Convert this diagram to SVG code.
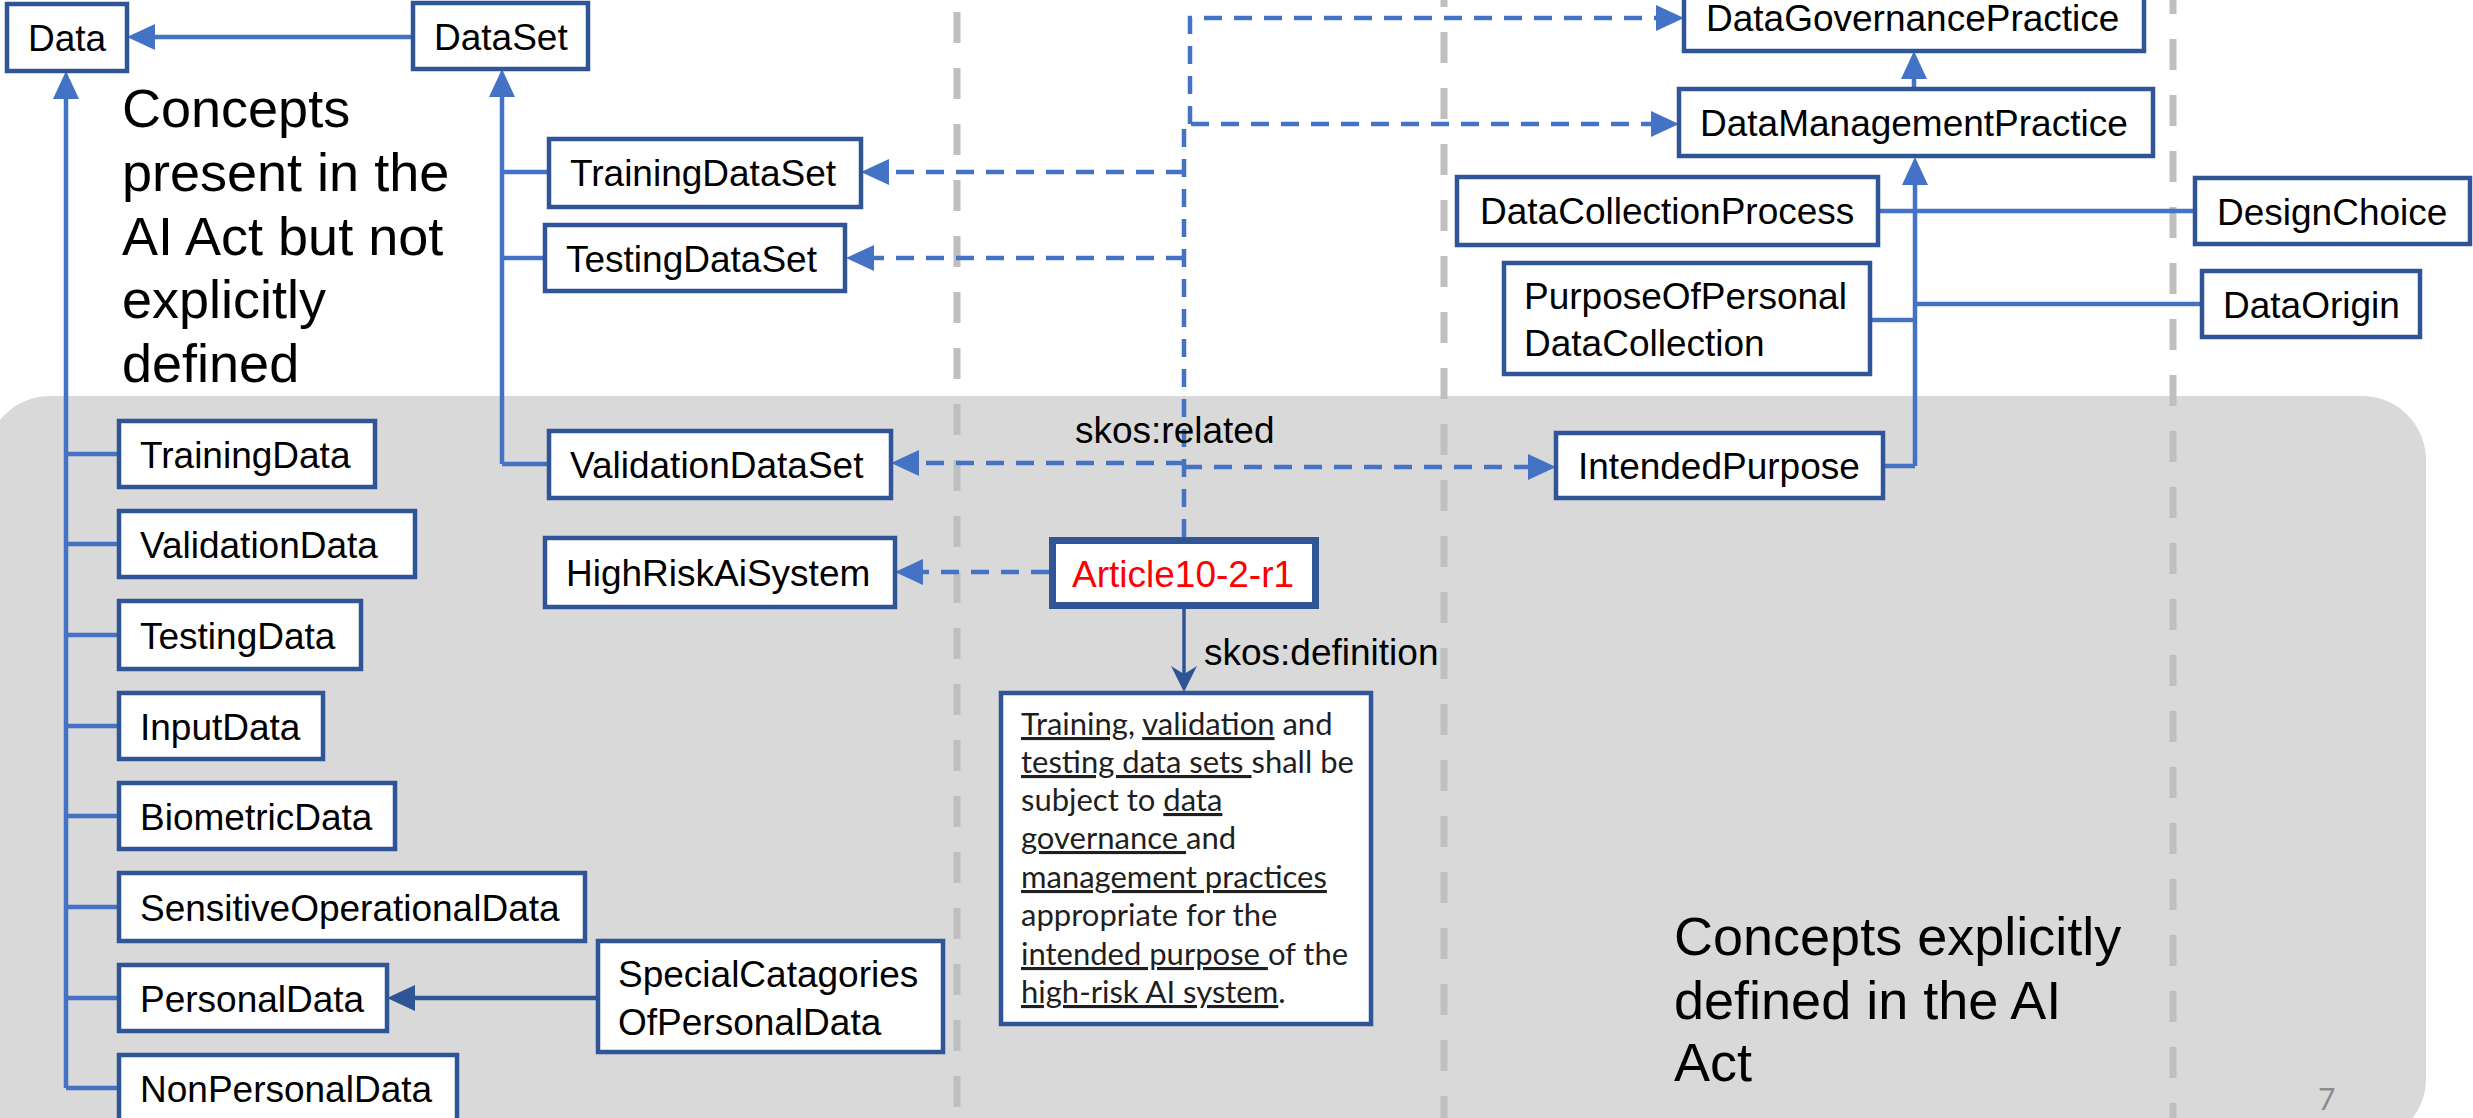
<svg xmlns="http://www.w3.org/2000/svg" width="2473" height="1118" viewBox="0 0 2473 1118">
<style>
.box{fill:#ffffff;stroke:#2f5597;stroke-width:4.5}
.lbl{font-family:"Liberation Sans",Arial,sans-serif;font-size:37px;fill:#000000}
.big{font-family:"Liberation Sans",Arial,sans-serif;font-size:54px;fill:#000000}
.sol{fill:none;stroke:#4472c4;stroke-width:4.5}
.dsh{fill:none;stroke:#4472c4;stroke-width:4.5;stroke-dasharray:18 12}
.sep{fill:none;stroke:#bfbfbf;stroke-width:7;stroke-dasharray:31 25}
.def{font-family:Lato,"Liberation Sans",sans-serif;font-size:31px;fill:#1f1f1f}
</style>
<defs>
<marker id="arr" markerUnits="userSpaceOnUse" markerWidth="28" markerHeight="26" viewBox="0 0 28 26" refX="18" refY="13" orient="auto"><path d="M0,0 L28,13 L0,26 Z" fill="#4472c4"/></marker>
<marker id="arrd" markerUnits="userSpaceOnUse" markerWidth="28" markerHeight="26" viewBox="0 0 28 26" refX="18" refY="13" orient="auto"><path d="M0,0 L28,13 L0,26 Z" fill="#2f5597"/></marker>
<marker id="stl" markerUnits="userSpaceOnUse" markerWidth="26" markerHeight="26" viewBox="0 0 26 26" refX="20" refY="13" orient="auto"><path d="M0,0 L26,13 L0,26 L8,13 Z" fill="#2f5597"/></marker>
</defs>
<rect x="0" y="0" width="2473" height="1118" fill="#ffffff"/>
<rect x="-14" y="396" width="2440" height="747" rx="64" ry="64" fill="#d9d9d9"/>
<g id="separators">
<path class="sep" d="M957,0 V1118" stroke-dashoffset="44"/>
<path class="sep" d="M1444,0 V1118" stroke-dashoffset="24"/>
<path class="sep" d="M2173,0 V1118" stroke-dashoffset="17"/>
</g>
<g id="connectors">
<path class="sol" d="M413,37 H137" marker-end="url(#arr)"/>
<path class="sol" d="M66,1088 V81" marker-end="url(#arr)"/>
<path class="sol" d="M66,454 H119 M66,544 H119 M66,635 H119 M66,726 H119 M66,816 H119 M66,907 H119 M66,998 H119 M66,1088 H119"/>
<path class="sol" d="M502,464 V79" marker-end="url(#arr)"/>
<path class="sol" d="M502,172 H549 M502,258 H545 M502,464 H549"/>
<path class="sol" d="M1914,89 V61" marker-end="url(#arr)"/>
<path class="sol" d="M1915,466 V167" marker-end="url(#arr)"/>
<path class="sol" d="M1883,466 H1915 M1870,320 H1915 M1915,304 H2202 M1877,211 H2195"/>
<path class="dsh" d="M1184,537 V124 H1669" marker-end="url(#arr)"/>
<path class="dsh" d="M1190,124 V18 H1674" marker-end="url(#arr)"/>
<path class="dsh" d="M1184,172 H871" marker-end="url(#arr)"/>
<path class="dsh" d="M1184,258 H856" marker-end="url(#arr)"/>
<path class="dsh" d="M1184,463 H901" marker-end="url(#arr)"/>
<path class="dsh" d="M1184,467 H1546" marker-end="url(#arr)"/>
<path class="dsh" d="M1049,572 H905" marker-end="url(#arr)"/>
<path d="M598,998 H397" fill="none" stroke="#2f5597" stroke-width="4.5" marker-end="url(#arrd)"/>
<path d="M1184,609 V686" fill="none" stroke="#2f5597" stroke-width="3.5" marker-end="url(#stl)"/>
<text class="lbl" x="1075" y="443">skos:related</text>
<text class="lbl" x="1204" y="665">skos:definition</text>
</g>
<g id="n-data"><rect class="box" x="7" y="4" width="120" height="67"/><text class="lbl" x="28" y="51">Data</text></g>
<g id="n-dataset"><rect class="box" x="413" y="3" width="175" height="66"/><text class="lbl" x="434" y="50">DataSet</text></g>
<g id="n-trainingdataset"><rect class="box" x="549" y="139" width="312" height="68"/><text class="lbl" x="570" y="186">TrainingDataSet</text></g>
<g id="n-testingdataset"><rect class="box" x="545" y="225" width="300" height="66"/><text class="lbl" x="566" y="272">TestingDataSet</text></g>
<g id="n-validationdataset"><rect class="box" x="549" y="431" width="342" height="67"/><text class="lbl" x="570" y="478">ValidationDataSet</text></g>
<g id="n-highrisk"><rect class="box" x="545" y="538" width="350" height="69"/><text class="lbl" x="566" y="586">HighRiskAiSystem</text></g>
<g id="n-article"><rect x="1052.5" y="540.5" width="263" height="65" fill="#ffffff" stroke="#2f5597" stroke-width="7"/><text class="lbl" x="1072" y="587" style="fill:#ff0000">Article10-2-r1</text></g>
<g id="n-trainingdata"><rect class="box" x="119" y="421" width="256" height="66"/><text class="lbl" x="140" y="468">TrainingData</text></g>
<g id="n-validationdata"><rect class="box" x="119" y="511" width="296" height="66"/><text class="lbl" x="140" y="558">ValidationData</text></g>
<g id="n-testingdata"><rect class="box" x="119" y="601" width="242" height="68"/><text class="lbl" x="140" y="649">TestingData</text></g>
<g id="n-inputdata"><rect class="box" x="119" y="693" width="204" height="66"/><text class="lbl" x="140" y="740">InputData</text></g>
<g id="n-biometricdata"><rect class="box" x="119" y="783" width="276" height="66"/><text class="lbl" x="140" y="830">BiometricData</text></g>
<g id="n-sensitive"><rect class="box" x="119" y="873" width="466" height="68"/><text class="lbl" x="140" y="921">SensitiveOperationalData</text></g>
<g id="n-personaldata"><rect class="box" x="119" y="965" width="268" height="66"/><text class="lbl" x="140" y="1012">PersonalData</text></g>
<g id="n-nonpersonaldata"><rect class="box" x="119" y="1055" width="338" height="70"/><text class="lbl" x="140" y="1102">NonPersonalData</text></g>
<g id="n-special"><rect class="box" x="598" y="941" width="345" height="111"/><text class="lbl" x="618" y="987">SpecialCatagories</text><text class="lbl" x="618" y="1035">OfPersonalData</text></g>
<g id="n-dgp"><rect class="box" x="1684" y="-10" width="460" height="61"/><text class="lbl" x="1706" y="31">DataGovernancePractice</text></g>
<g id="n-dmp"><rect class="box" x="1679" y="89" width="474" height="67"/><text class="lbl" x="1700" y="136">DataManagementPractice</text></g>
<g id="n-dcp"><rect class="box" x="1457" y="177" width="421" height="68"/><text class="lbl" x="1480" y="224">DataCollectionProcess</text></g>
<g id="n-purpose"><rect class="box" x="1504" y="263" width="366" height="111"/><text class="lbl" x="1524" y="309">PurposeOfPersonal</text><text class="lbl" x="1524" y="356">DataCollection</text></g>
<g id="n-designchoice"><rect class="box" x="2195" y="178" width="275" height="66"/><text class="lbl" x="2217" y="225">DesignChoice</text></g>
<g id="n-dataorigin"><rect class="box" x="2202" y="271" width="218" height="66"/><text class="lbl" x="2223" y="318">DataOrigin</text></g>
<g id="n-intendedpurpose"><rect class="box" x="1556" y="433" width="327" height="65"/><text class="lbl" x="1578" y="479">IntendedPurpose</text></g>
<g id="n-definition"><rect class="box" x="1001" y="693" width="370" height="331"/>
<text class="def" x="1021" y="735"><tspan text-decoration="underline">Training</tspan>, <tspan text-decoration="underline">validation</tspan> and</text>
<text class="def" x="1021" y="773"><tspan text-decoration="underline">testing data sets </tspan>shall be</text>
<text class="def" x="1021" y="811">subject to <tspan text-decoration="underline">data</tspan></text>
<text class="def" x="1021" y="849"><tspan text-decoration="underline">governance </tspan>and</text>
<text class="def" x="1021" y="888"><tspan text-decoration="underline">management practices</tspan></text>
<text class="def" x="1021" y="926">appropriate for the</text>
<text class="def" x="1021" y="965"><tspan text-decoration="underline">intended purpose </tspan>of the</text>
<text class="def" x="1021" y="1003"><tspan text-decoration="underline">high-risk AI system</tspan>.</text>
</g>
<g id="captions">
<text class="big" x="122"><tspan x="122" y="127">Concepts</tspan><tspan x="122" y="191">present in the</tspan><tspan x="122" y="255">AI Act but not</tspan><tspan x="122" y="318">explicitly</tspan><tspan x="122" y="382">defined</tspan></text>
<text class="big" x="1674"><tspan x="1674" y="955">Concepts explicitly</tspan><tspan x="1674" y="1019">defined in the AI</tspan><tspan x="1674" y="1081">Act</tspan></text>
<text x="2318" y="1110" font-family="Lato,'Liberation Sans',sans-serif" font-size="30" fill="#8c8c8c">7</text>
</g>
</svg>
